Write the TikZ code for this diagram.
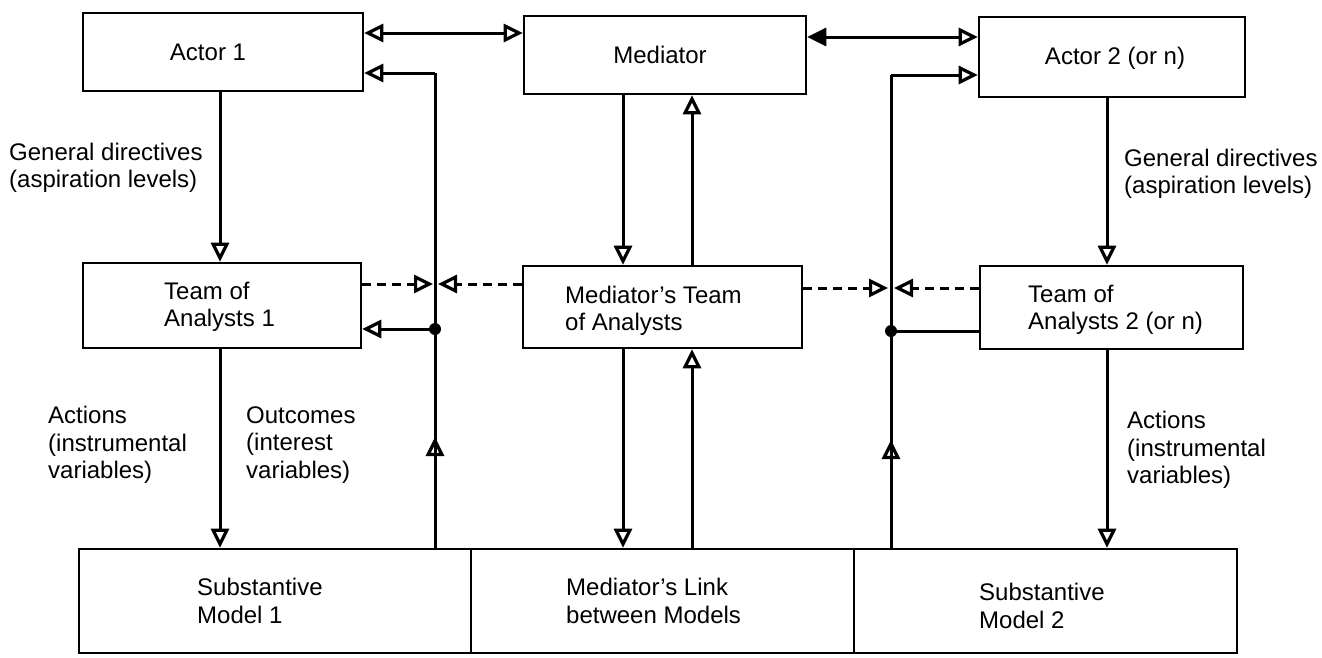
\documentclass[tikz,border=0pt]{standalone}
\usepackage{fontspec}
\setmainfont{Liberation Sans}
\usetikzlibrary{arrows.meta,calc}
\begin{document}
\begin{tikzpicture}[x=1pt,y=-1pt,
  box/.style={draw,line width=2.6pt,inner sep=0pt},
  lbl/.style={font=\fontsize{24}{27.5}\selectfont,align=left,inner sep=0pt},
  wire/.style={line width=3pt},
  headopen/.style={Triangle[open,length=19pt,width=18pt,line width=3.2pt]},
  arrowto/.style={wire,-{Triangle[open,length=19pt,width=18pt,line width=3.2pt]}},
  arrowboth/.style={wire,{Triangle[open,length=19pt,width=18pt,line width=3.2pt]}-{Triangle[open,length=19pt,width=18pt,line width=3.2pt]}},
  arrowsolid/.style={wire,{Triangle[length=19pt,width=18pt]}-{Triangle[open,length=19pt,width=18pt,line width=3.2pt]}},
  dasharrow/.style={wire,dash pattern=on 9pt off 6pt,-{Triangle[open,length=19pt,width=18pt,line width=3.2pt]}},
  junction/.style={circle,fill,inner sep=0pt,minimum size=12pt}
]
\useasboundingbox (0,0) rectangle (1322,657);

% ---- boxes ----
\node[box,minimum width=280pt,minimum height=78pt] (a1) at (223,52) {};
\node[box,minimum width=282pt,minimum height=78pt] (med) at (665,55) {};
\node[box,minimum width=266pt,minimum height=80pt] (a2) at (1112,57) {};
\node[box,minimum width=278pt,minimum height=85pt] (t1) at (222,305.5) {};
\node[box,minimum width=279pt,minimum height=82pt] (mt) at (662.5,307) {};
\node[box,minimum width=263pt,minimum height=83pt] (t2) at (1111.5,307.5) {};
\node[box,minimum width=392pt,minimum height=104pt] (m1) at (275,601) {};
\node[box,minimum width=383pt,minimum height=104pt] (ml) at (662.5,601) {};
\node[box,minimum width=383pt,minimum height=104pt] (m2) at (1045.5,601) {};

% ---- box texts ----
\node[lbl] (a1txt) at (208,52) {Actor 1};
\node[lbl] (medtxt) at (660,55) {Mediator};
\node[lbl] (a2txt) at (1115,58) {Actor 2 (or n)};
\node[lbl,anchor=west] (t1txt) at (164,307) {Team of\\Analysts 1};
\node[lbl,anchor=west] (mttxt) at (565,311) {Mediator’s Team\\of Analysts};
\node[lbl,anchor=west] (t2txt) at (1028,310) {Team of\\Analysts 2 (or n)};
\node[lbl,anchor=west] (m1txt) at (197,601) {Substantive\\Model 1};
\node[lbl,anchor=west] (mltxt) at (566,601) {Mediator’s Link\\between Models};
\node[lbl,anchor=west] (m2txt) at (979,606) {Substantive\\Model 2};

% ---- connector labels ----
\node[lbl,anchor=west] (gd1) at (9,168) {General directives\\(aspiration levels)};
\node[lbl,anchor=west] (gd2) at (1124,174) {General directives\\(aspiration levels)};
\node[lbl,anchor=west] (act1) at (48,445) {Actions\\(instrumental\\variables)};
\node[lbl,anchor=west] (out1) at (246,445) {Outcomes\\(interest\\variables)};
\node[lbl,anchor=west] (act2) at (1127,450) {Actions\\(instrumental\\variables)};

% ---- reference coordinates for routing ----
\coordinate (xL) at (220,0);
\coordinate (xR) at (1107,0);
\coordinate (xMd) at (623,0);
\coordinate (xMu) at (692,0);
\coordinate (yTopL) at (0,33);
\coordinate (yTopR) at (0,37);
\coordinate (yBackL) at (0,73);
\coordinate (yBackR) at (0,75);
\coordinate (fbL) at (435,0);
\coordinate (fbR) at (891,0);
\coordinate (dashL) at (435,284);
\coordinate (dashR) at (891,288);
\coordinate (midL) at (435,437);
\coordinate (midR) at (891,440);

% ---- top row links ----
\draw[arrowboth] (a1.east |- yTopL) -- (med.west |- yTopL);
\draw[arrowsolid] (med.east |- yTopR) -- (a2.west |- yTopR);

% ---- directives and actions ----
\draw[arrowto] (a1.south -| xL) -- (t1.north -| xL);
\draw[arrowto] (t1.south -| xL) -- (m1.north -| xL);
\draw[arrowto] (a2.south -| xR) -- (t2.north -| xR);
\draw[arrowto] (t2.south -| xR) -- (m2.north -| xR);

% ---- mediator channels ----
\draw[arrowto] (med.south -| xMd) -- (mt.north -| xMd);
\draw[arrowto] (mt.north -| xMu) -- (med.south -| xMu);
\draw[arrowto] (mt.south -| xMd) -- (ml.north -| xMd);
\draw[arrowto] (ml.north -| xMu) -- (mt.south -| xMu);

% ---- outcome feedback, side 1 ----
\draw[wire] (m1.north -| fbL) -- (fbL |- yBackL);
\draw[arrowto] (fbL |- yBackL) -- (a1.east |- yBackL);
\draw[arrowto] ([yshift=-22pt]midL) -- (midL);
\node[junction] (dotL) at (435,329) {};
\draw[arrowto] (dotL.center) -- (t1.east |- dotL);
\draw[dasharrow] (t1.east |- dashL) -- ([xshift=-2pt]dashL);
\draw[dasharrow] (mt.west |- dashL) -- ([xshift=3pt]dashL);

% ---- outcome feedback, side 2 ----
\draw[wire] (m2.north -| fbR) -- (fbR |- yBackR);
\draw[arrowto] (fbR |- yBackR) -- (a2.west |- yBackR);
\draw[arrowto] ([yshift=-22pt]midR) -- (midR);
\node[junction] (dotR) at (891,331) {};
\draw[wire] (dotR.center) -- (t2.west |- dotR);
\draw[dasharrow] (mt.east |- dashR) -- ([xshift=-3pt]dashR);
\draw[dasharrow] (t2.west |- dashR) -- ([xshift=3pt]dashR);
\end{tikzpicture}
\end{document}
